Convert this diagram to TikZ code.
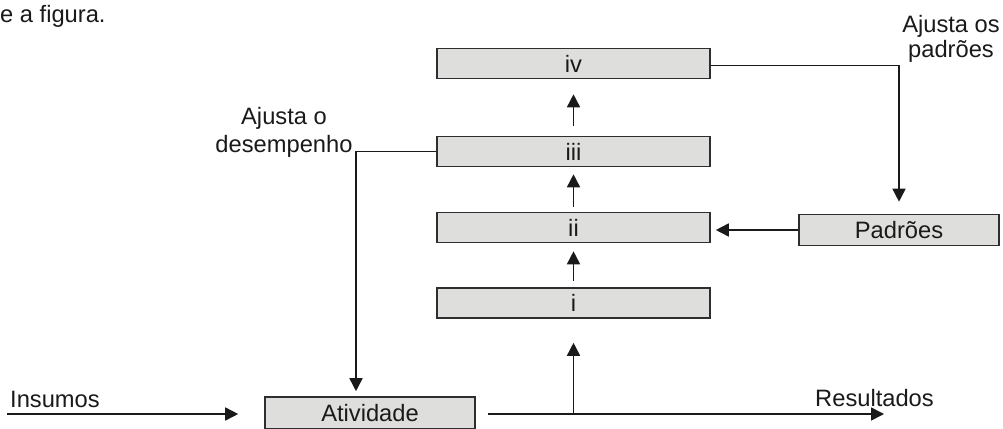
\documentclass[tikz,border=0pt]{standalone}
\usepackage{fontspec}
\setmainfont{Liberation Sans}
\usetikzlibrary{arrows.meta}
\definecolor{boxfill}{HTML}{DEDEDC}
\definecolor{boxline}{HTML}{2E2E2E}
\definecolor{ink}{HTML}{1A1A1A}
\begin{document}
\begin{tikzpicture}[x=1pt,y=-1pt,
  every node/.style={font=\fontsize{23.7}{28}\selectfont, text=ink},
  stagebox/.style={draw=boxline, fill=boxfill, line width=1.6pt, inner sep=0pt,
    minimum width=273pt, minimum height=30pt},
  sidebox/.style={draw=boxline, fill=boxfill, line width=1.6pt, inner sep=0pt,
    minimum width=200pt, minimum height=31pt},
  conn/.style={draw=ink, line width=1.6pt},
  arr/.style={conn, -{Triangle[width=13pt,length=13pt]}},
  lbl/.style={inner sep=0pt}
]
\useasboundingbox (0,0) rectangle (1003,428);
\fill[white] (0,0) rectangle (1003,428);

% stacked boxes
\node[stagebox] (iv)  at (573.5,63.5)  {iv};
\node[stagebox] (iii) at (573.5,151.5) {iii};
\node[stagebox] (ii)  at (573.5,227.5) {ii};
\node[stagebox] (i)   at (573.5,303)   {i};
\node[sidebox]  (pad) at (899,230)     {Padrões};
\node[draw=boxline, fill=boxfill, line width=1.6pt, inner sep=0pt,
      minimum width=210pt, minimum height=32pt] (atv) at (370,413) {Atividade};

% labels
\node[lbl, anchor=base west] (ins) at (10,407) {Insumos};
\node[lbl, anchor=base west] (res) at (815,406) {Resultados};
\node[lbl, anchor=base west] (top) at (0,23) {e a figura.};
\node[lbl, align=center, anchor=base] (adj1) at (284,152) {Ajusta o\\desempenho};
\node[lbl, align=center, anchor=base, font=\fontsize{23.7}{24.6}\selectfont] (adj2) at (951,57.5) {Ajusta os\\padrões};

% coordinates
\coordinate (inS) at (7,414);
\coordinate (outE) at (884,414);
\coordinate (fb) at (356,151.5);
\coordinate (jn) at (573.5,414);

% vertical chain
\draw[arr, shorten <=6pt, shorten >=8pt] (i.north) -- (ii.south);
\draw[arr, shorten <=5pt, shorten >=7pt] (ii.north) -- (iii.south);
\draw[arr, shorten <=10pt, shorten >=15pt] (iii.north) -- (iv.south);
\draw[arr, shorten >=24pt] (jn) -- (i.south);

% feedback loops
\draw[arr, shorten >=12pt] ([yshift=-2pt]iv.east) -| (pad.north);
\draw[arr, shorten >=5pt] (pad.west) -- (pad.west -| ii.east);
\draw[arr, shorten >=5pt] (iii.west) -- (fb) -- (fb |- atv.north);

% input / output
\draw[arr, shorten >=26pt] (inS) -- (inS -| atv.west);
\draw[arr, shorten <=12pt] (atv.east |- outE) -- (outE);
\end{tikzpicture}
\end{document}
